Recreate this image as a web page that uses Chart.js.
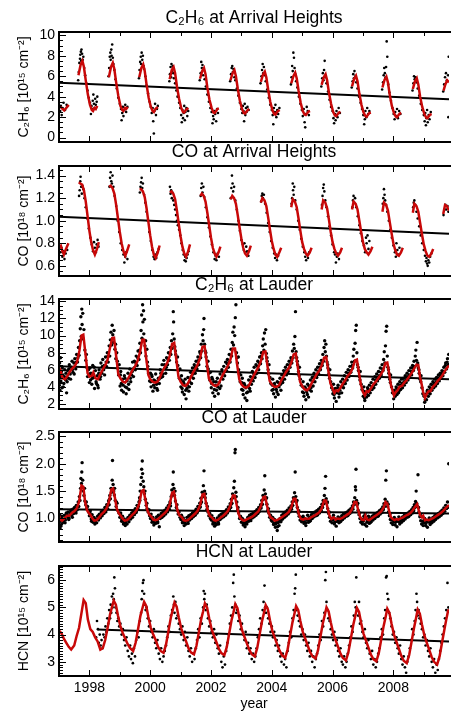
<!DOCTYPE html>
<html>
<head>
<meta charset="utf-8">
<script src="https://cdn.jsdelivr.net/npm/chart.js@4.4.0/dist/chart.umd.min.js"></script>
<style>
html, body { margin: 0; padding: 0; background: #fff; }
#wrap { position: relative; width: 453px; height: 711px; overflow: hidden; background: #fff; }
#wrap canvas { position: absolute; left: 0; }
</style>
</head>
<body>
<div id="wrap"></div>
<script>
// ---- data (decimal year, column) ----

const yearTicks = [1998, 2000, 2002, 2004, 2006, 2008];

// C2H6 at Arrival Heights
const ahC2h6Ticks = [0, 2, 4, 6, 8, 10];
const ahC2h6Trend = [[1997, 5.35], [2009.83, 3.75]];
const ahC2h6Fit = [
  [1997.05,3.0],[1997.17,2.65],[1997.32,3.2],[1997.33,null],
  [1997.64,6.1],[1997.71,7.1],[1997.77,7.5],[1997.82,6.9],[1997.88,5.6],[1997.95,4.2],[1998.02,3.2],[1998.08,2.7],[1998.12,2.6],[1998.17,2.9],[1998.21,2.8],[1998.26,3.1],[1998.27,null],
  [1998.64,5.9],[1998.71,6.9],[1998.77,7.3],[1998.82,6.7],[1998.88,5.4],[1998.95,4.1],[1999.02,3.1],[1999.08,2.7],[1999.12,2.6],[1999.17,2.9],[1999.21,2.8],[1999.26,3.0],[1999.27,null],
  [1999.64,5.9],[1999.71,6.8],[1999.77,7.15],[1999.82,6.5],[1999.88,5.2],[1999.95,3.9],[2000.02,3.0],[2000.08,2.6],[2000.12,2.5],[2000.17,2.8],[2000.21,2.9],[2000.26,2.95],[2000.27,null],
  [2000.64,5.7],[2000.71,6.6],[2000.77,6.9],[2000.82,6.3],[2000.88,5.0],[2000.95,3.8],[2001.02,2.9],[2001.08,2.5],[2001.12,2.45],[2001.17,2.7],[2001.21,2.8],[2001.26,2.9],[2001.27,null],
  [2001.64,5.75],[2001.71,6.5],[2001.77,6.8],[2001.82,6.2],[2001.88,4.9],[2001.95,3.7],[2002.02,2.9],[2002.08,2.45],[2002.12,2.4],[2002.17,2.6],[2002.21,2.8],[2002.26,2.85],[2002.27,null],
  [2002.64,5.6],[2002.71,6.3],[2002.77,6.6],[2002.82,6.0],[2002.88,4.8],[2002.95,3.6],[2003.02,2.8],[2003.08,2.4],[2003.12,2.35],[2003.17,2.55],[2003.21,2.7],[2003.26,2.8],[2003.27,null],
  [2003.64,5.45],[2003.71,6.15],[2003.77,6.45],[2003.82,5.9],[2003.88,4.7],[2003.95,3.5],[2004.02,2.7],[2004.08,2.3],[2004.12,2.25],[2004.17,2.5],[2004.21,2.6],[2004.26,2.7],[2004.27,null],
  [2004.64,5.3],[2004.71,6.0],[2004.77,6.35],[2004.82,5.8],[2004.88,4.6],[2004.95,3.4],[2005.02,2.6],[2005.08,2.25],[2005.12,2.2],[2005.17,2.4],[2005.21,2.55],[2005.26,2.6],[2005.27,null],
  [2005.64,5.15],[2005.71,5.9],[2005.77,6.2],[2005.82,5.6],[2005.88,4.4],[2005.95,3.3],[2006.02,2.5],[2006.08,2.15],[2006.12,2.1],[2006.17,2.3],[2006.21,2.45],[2006.26,2.5],[2006.27,null],
  [2006.64,5.0],[2006.71,5.75],[2006.77,6.05],[2006.82,5.5],[2006.88,4.3],[2006.95,3.2],[2007.02,2.45],[2007.08,2.1],[2007.12,2.05],[2007.17,2.25],[2007.21,2.4],[2007.26,2.45],[2007.27,null],
  [2007.64,4.9],[2007.71,5.65],[2007.77,5.95],[2007.82,5.4],[2007.88,4.2],[2007.95,3.1],[2008.02,2.4],[2008.08,2.05],[2008.12,2.0],[2008.17,2.2],[2008.21,2.35],[2008.26,2.4],[2008.27,null],
  [2008.64,4.75],[2008.71,5.5],[2008.77,5.8],[2008.82,5.2],[2008.88,4.0],[2008.95,3.0],[2009.02,2.3],[2009.08,1.95],[2009.12,1.9],[2009.17,2.1],[2009.21,2.25],[2009.26,2.3],[2009.27,null],
  [2009.65,4.6],[2009.71,5.2],[2009.77,5.6],[2009.83,5.4]
];
const ahC2h6Pts = [
  [1997.04,2.6],[1997.06,3.1],[1997.09,2.2],[1997.12,2.9],[1997.15,3.4],[1997.2,2.7],[1997.25,3.2],
  [1997.63,5.6],[1997.65,6.4],[1997.67,7.3],[1997.69,7.7],[1997.7,8.1],[1997.72,8.4],[1997.73,7.5],[1997.74,8.6],[1997.76,8.2],[1997.78,7.6],[1997.8,7.9],[1997.83,6.8],[1997.86,6.1],[1997.9,5.3],[1997.94,4.6],[1997.98,3.9],[1998.02,3.4],[1998.05,2.3],[1998.07,3.1],[1998.09,2.8],[1998.11,3.6],[1998.13,4.2],[1998.15,3.3],[1998.17,2.9],[1998.19,3.8],[1998.21,3.2],[1998.24,3.5],[1998.26,4.0],
  [1998.63,6.0],[1998.65,6.8],[1998.67,7.9],[1998.69,8.3],[1998.7,7.6],[1998.72,8.6],[1998.73,8.0],[1998.75,9.1],[1998.77,7.8],[1998.79,7.2],[1998.82,6.6],[1998.86,5.7],[1998.9,4.8],[1998.95,3.9],[1999.0,3.3],[1999.04,2.8],[1999.06,1.7],[1999.08,2.4],[1999.1,3.0],[1999.12,2.1],[1999.15,2.7],[1999.18,3.2],[1999.21,2.5],[1999.25,3.0],
  [1999.63,5.8],[1999.65,6.6],[1999.67,7.4],[1999.69,7.9],[1999.7,7.2],[1999.72,8.3],[1999.74,7.6],[1999.76,8.0],[1999.78,7.0],[1999.8,6.7],[1999.84,6.0],[1999.88,5.1],[1999.93,4.3],[1999.98,3.5],[2000.02,3.0],[2000.05,2.4],[2000.08,2.9],[2000.1,1.6],[2000.12,0.4],[2000.14,2.6],[2000.16,3.3],[2000.19,2.2],[2000.22,2.8],[2000.25,3.1],
  [2000.63,5.5],[2000.65,6.2],[2000.67,6.9],[2000.69,5.9],[2000.7,7.2],[2000.72,6.5],[2000.74,7.0],[2000.76,6.3],[2000.78,5.8],[2000.82,5.3],[2000.86,4.6],[2000.9,4.0],[2000.95,3.4],[2000.99,2.9],[2001.02,2.2],[2001.04,1.5],[2001.06,2.7],[2001.08,1.9],[2001.1,2.4],[2001.12,3.1],[2001.14,1.7],[2001.16,2.5],[2001.19,2.9],[2001.22,2.1],[2001.25,2.6],
  [2001.63,5.6],[2001.66,6.3],[2001.68,7.4],[2001.7,6.8],[2001.72,7.1],[2001.74,6.1],[2001.76,6.6],[2001.79,5.7],[2001.83,5.0],[2001.88,4.2],[2001.93,3.5],[2001.98,2.9],[2002.02,2.5],[2002.05,1.4],[2002.07,2.1],[2002.09,1.8],[2002.11,2.6],[2002.14,2.3],[2002.17,1.6],[2002.2,2.8],[2002.23,2.4],
  [2002.63,5.5],[2002.66,6.2],[2002.68,6.8],[2002.7,7.0],[2002.72,6.4],[2002.74,6.7],[2002.77,5.9],[2002.8,5.6],[2002.85,4.8],[2002.9,4.1],[2002.95,3.4],[2003.0,2.8],[2003.03,2.4],[2003.05,3.1],[2003.07,2.6],[2003.09,1.6],[2003.11,3.3],[2003.13,2.2],[2003.15,2.9],[2003.17,2.5],[2003.2,3.0],[2003.24,2.7],
  [2003.63,5.3],[2003.66,6.0],[2003.68,6.6],[2003.7,7.2],[2003.72,6.3],[2003.74,6.9],[2003.77,6.1],[2003.8,5.5],[2003.85,4.7],[2003.9,3.9],[2003.95,3.2],[2004.0,2.7],[2004.03,2.2],[2004.05,1.3],[2004.07,2.9],[2004.1,2.5],[2004.12,3.2],[2004.15,2.0],[2004.18,2.7],[2004.21,2.3],[2004.25,2.9],
  [2004.63,5.2],[2004.65,5.9],[2004.67,7.0],[2004.69,6.5],[2004.71,8.3],[2004.73,7.8],[2004.75,6.8],[2004.77,6.2],[2004.8,5.5],[2004.84,4.9],[2004.89,4.0],[2004.94,3.3],[2004.99,2.7],[2005.02,2.1],[2005.05,2.8],[2005.08,1.5],[2005.1,1.0],[2005.12,2.3],[2005.15,3.0],[2005.18,2.6],[2005.22,2.2],
  [2005.63,5.0],[2005.66,5.8],[2005.68,6.3],[2005.7,5.6],[2005.72,6.6],[2005.74,7.5],[2005.77,5.9],[2005.8,5.3],[2005.85,4.5],[2005.9,3.7],[2005.95,3.0],[2006.0,2.6],[2006.03,1.9],[2006.05,1.4],[2006.08,2.3],[2006.1,1.7],[2006.13,2.6],[2006.16,2.0],[2006.2,2.9],[2006.24,2.4],
  [2006.63,4.9],[2006.66,5.5],[2006.68,6.2],[2006.7,5.8],[2006.72,6.5],[2006.75,6.0],[2006.78,5.4],[2006.82,4.8],[2006.87,4.0],[2006.92,3.4],[2006.97,2.8],[2007.01,2.2],[2007.04,1.3],[2007.06,1.8],[2007.08,2.6],[2007.11,2.0],[2007.14,2.9],[2007.17,2.3],[2007.21,2.6],
  [2007.63,4.7],[2007.66,5.4],[2007.68,6.1],[2007.7,6.8],[2007.72,6.3],[2007.74,5.9],[2007.76,6.9],[2007.78,9.4],[2007.8,7.9],[2007.83,5.2],[2007.87,4.4],[2007.92,3.6],[2007.97,2.9],[2008.01,2.3],[2008.04,1.8],[2008.06,2.5],[2008.09,2.1],[2008.12,2.8],[2008.15,1.9],[2008.19,2.6],[2008.23,2.3],
  [2008.63,4.6],[2008.66,5.3],[2008.68,6.0],[2008.7,5.7],[2008.73,5.9],[2008.76,5.4],[2008.8,4.8],[2008.85,4.1],[2008.9,3.3],[2008.95,2.7],[2009.0,2.2],[2009.03,1.6],[2009.05,2.4],[2009.07,1.2],[2009.09,1.9],[2009.11,2.7],[2009.13,1.5],[2009.16,2.2],[2009.19,1.8],[2009.23,2.5],
  [2009.64,4.5],[2009.67,5.2],[2009.7,5.9],[2009.73,6.3],[2009.76,5.6],[2009.8,6.1],[2009.81,2.0],[2009.82,7.9]
];

// CO at Arrival Heights
const ahCoTicks = [0.6, 0.8, 1.0, 1.2, 1.4];
const ahCoTrend = [[1997, 1.035], [2009.83, 0.885]];
const ahCoFit = [
  [1997.05,0.79],[1997.1,0.74],[1997.16,0.7],[1997.23,0.75],[1997.31,0.8],[1997.32,null],
  [1997.65,1.34],[1997.7,1.33],[1997.76,1.32],[1997.82,1.27],[1997.88,1.17],[1997.94,1.04],[1998.0,0.91],[1998.06,0.81],[1998.12,0.74],[1998.18,0.7],[1998.25,0.75],[1998.31,0.81],[1998.32,null],
  [1998.65,1.3],[1998.7,1.31],[1998.76,1.29],[1998.82,1.24],[1998.88,1.14],[1998.94,1.02],[1999.0,0.9],[1999.06,0.8],[1999.12,0.73],[1999.18,0.69],[1999.25,0.74],[1999.31,0.79],[1999.32,null],
  [1999.65,1.28],[1999.7,1.28],[1999.76,1.26],[1999.82,1.21],[1999.88,1.11],[1999.94,0.99],[2000.0,0.87],[2000.06,0.77],[2000.12,0.7],[2000.18,0.67],[2000.25,0.72],[2000.31,0.78],[2000.32,null],
  [2000.65,1.25],[2000.7,1.26],[2000.76,1.24],[2000.82,1.19],[2000.88,1.09],[2000.94,0.97],[2001.0,0.86],[2001.06,0.77],[2001.12,0.71],[2001.18,0.68],[2001.25,0.73],[2001.31,0.79],[2001.32,null],
  [2001.65,1.22],[2001.7,1.24],[2001.76,1.22],[2001.82,1.17],[2001.88,1.07],[2001.94,0.96],[2002.0,0.85],[2002.06,0.76],[2002.12,0.71],[2002.18,0.68],[2002.25,0.72],[2002.31,0.77],[2002.32,null],
  [2002.65,1.19],[2002.7,1.22],[2002.76,1.2],[2002.82,1.15],[2002.88,1.05],[2002.94,0.94],[2003.0,0.84],[2003.06,0.76],[2003.12,0.71],[2003.18,0.69],[2003.25,0.73],[2003.31,0.78],[2003.32,null],
  [2003.64,1.16],[2003.69,1.2],[2003.76,1.18],[2003.82,1.13],[2003.88,1.03],[2003.94,0.92],[2004.0,0.82],[2004.06,0.75],[2004.12,0.7],[2004.18,0.68],[2004.25,0.72],[2004.31,0.76],[2004.32,null],
  [2004.64,1.12],[2004.69,1.19],[2004.76,1.17],[2004.82,1.12],[2004.88,1.02],[2004.94,0.91],[2005.0,0.81],[2005.06,0.75],[2005.12,0.71],[2005.18,0.69],[2005.25,0.72],[2005.31,0.76],[2005.32,null],
  [2005.64,1.1],[2005.69,1.18],[2005.76,1.16],[2005.82,1.11],[2005.88,1.01],[2005.94,0.9],[2006.0,0.81],[2006.06,0.75],[2006.12,0.71],[2006.18,0.69],[2006.25,0.72],[2006.31,0.76],[2006.32,null],
  [2006.64,1.1],[2006.69,1.17],[2006.76,1.15],[2006.82,1.1],[2006.88,1.0],[2006.94,0.9],[2007.0,0.81],[2007.06,0.75],[2007.12,0.72],[2007.18,0.7],[2007.25,0.73],[2007.31,0.77],[2007.32,null],
  [2007.64,1.08],[2007.69,1.16],[2007.76,1.14],[2007.82,1.09],[2007.88,0.99],[2007.94,0.89],[2008.0,0.8],[2008.06,0.74],[2008.12,0.7],[2008.18,0.69],[2008.25,0.72],[2008.31,0.76],[2008.32,null],
  [2008.64,1.07],[2008.69,1.15],[2008.76,1.13],[2008.82,1.08],[2008.88,0.98],[2008.94,0.88],[2009.0,0.79],[2009.06,0.73],[2009.12,0.69],[2009.18,0.68],[2009.25,0.71],[2009.31,0.75],[2009.32,null],
  [2009.64,1.06],[2009.7,1.14],[2009.76,1.13],[2009.83,1.09]
];
const ahCoPts = [
  [1997.05,0.72],[1997.08,0.76],[1997.11,0.68],[1997.14,0.73],[1997.18,0.66],[1997.22,0.71],[1997.27,0.74],
  [1997.66,1.22],[1997.68,1.27],[1997.7,1.35],[1997.71,1.39],[1997.73,1.3],[1997.75,1.24],[1997.77,1.31],[1997.8,1.28],[1997.84,1.2],[1997.88,1.12],[1997.93,1.02],[1997.98,0.93],[1998.03,0.85],[1998.08,0.79],[1998.12,0.73],[1998.15,0.81],[1998.18,0.76],[1998.21,0.72],[1998.24,0.79],[1998.27,0.83],[1998.3,0.77],
  [1998.66,1.3],[1998.68,1.38],[1998.7,1.43],[1998.72,1.35],[1998.74,1.33],[1998.76,1.4],[1998.79,1.3],[1998.83,1.22],[1998.88,1.13],[1998.93,1.0],[1998.98,0.9],[1999.03,0.8],[1999.08,0.74],[1999.12,0.7],[1999.15,0.63],[1999.18,0.68],[1999.21,0.72],[1999.25,0.66],
  [1999.66,1.25],[1999.68,1.3],[1999.7,1.34],[1999.72,1.38],[1999.74,1.29],[1999.76,1.33],[1999.8,1.23],[1999.84,1.16],[1999.88,1.08],[1999.92,1.0],[1999.97,0.9],[2000.02,0.82],[2000.07,0.74],[2000.11,0.68],[2000.14,0.66],[2000.17,0.7],[2000.2,0.67],[2000.24,0.72],[2000.28,0.75],
  [2000.65,1.3],[2000.67,1.24],[2000.69,1.27],[2000.71,1.2],[2000.73,1.25],[2000.76,1.18],[2000.79,1.14],[2000.82,1.1],[2000.85,1.05],[2000.88,1.0],[2000.91,0.96],[2000.95,0.92],[2000.99,0.87],[2001.03,0.8],[2001.07,0.74],[2001.1,0.7],[2001.13,0.65],[2001.15,0.68],[2001.17,0.64],[2001.2,0.67],[2001.23,0.7],[2001.26,0.73],
  [2001.66,1.22],[2001.68,1.29],[2001.7,1.33],[2001.72,1.25],[2001.75,1.3],[2001.78,1.21],[2001.83,1.12],[2001.88,1.03],[2001.93,0.94],[2001.98,0.86],[2002.03,0.79],[2002.08,0.72],[2002.12,0.66],[2002.15,0.69],[2002.18,0.65],[2002.22,0.71],[2002.26,0.68],
  [2002.65,1.2],[2002.67,1.29],[2002.69,1.4],[2002.71,1.33],[2002.73,1.26],[2002.76,1.3],[2002.8,1.18],[2002.85,1.1],[2002.9,1.0],[2002.95,0.91],[2003.0,0.83],[2003.05,0.79],[2003.08,0.74],[2003.1,0.8],[2003.13,0.72],[2003.16,0.77],[2003.19,0.73],[2003.23,0.69],
  [2003.65,1.17],[2003.67,1.22],[2003.69,1.24],[2003.71,1.2],[2003.74,1.23],[2003.78,1.15],[2003.83,1.07],[2003.88,0.98],[2003.93,0.9],[2003.98,0.82],[2004.03,0.76],[2004.08,0.71],[2004.11,0.67],[2004.14,0.7],[2004.17,0.65],[2004.21,0.69],
  [2004.65,1.15],[2004.67,1.2],[2004.69,1.33],[2004.7,1.27],[2004.72,1.23],[2004.74,1.3],[2004.77,1.18],[2004.82,1.1],[2004.87,1.0],[2004.92,0.92],[2004.97,0.84],[2005.02,0.77],[2005.07,0.72],[2005.1,0.68],[2005.13,0.65],[2005.16,0.7],[2005.19,0.67],[2005.23,0.72],
  [2005.65,1.14],[2005.67,1.22],[2005.69,1.29],[2005.71,1.32],[2005.73,1.26],[2005.76,1.18],[2005.8,1.12],[2005.85,1.04],[2005.9,0.95],[2005.95,0.87],[2006.0,0.79],[2006.05,0.72],[2006.08,0.7],[2006.11,0.63],[2006.14,0.68],[2006.17,0.71],[2006.21,0.66],
  [2006.65,1.12],[2006.67,1.18],[2006.69,1.22],[2006.71,1.16],[2006.74,1.2],[2006.78,1.12],[2006.83,1.04],[2006.88,0.96],[2006.93,0.89],[2006.98,0.82],[2007.03,0.78],[2007.07,0.72],[2007.1,0.85],[2007.12,0.8],[2007.15,0.87],[2007.18,0.75],[2007.21,0.82],
  [2007.65,1.15],[2007.67,1.2],[2007.69,1.28],[2007.71,1.23],[2007.73,1.18],[2007.76,1.14],[2007.8,1.08],[2007.85,1.0],[2007.9,0.92],[2007.95,0.85],[2008.0,0.78],[2008.05,0.72],[2008.08,0.68],[2008.1,0.8],[2008.13,0.74],[2008.16,0.7],[2008.2,0.76],
  [2008.65,1.12],[2008.67,1.16],[2008.69,1.18],[2008.72,1.14],[2008.76,1.08],[2008.8,1.02],[2008.85,0.95],[2008.9,0.87],[2008.95,0.8],[2009.0,0.74],[2009.04,0.69],[2009.07,0.64],[2009.09,0.67],[2009.11,0.62],[2009.13,0.6],[2009.15,0.65],[2009.18,0.63],[2009.21,0.68],[2009.25,0.71],
  [2009.65,1.05],[2009.68,1.1],[2009.71,1.14],[2009.74,1.1],[2009.78,1.13],[2009.81,1.08]
];

// C2H6 at Lauder
const laC2h6Ticks = [2, 4, 6, 8, 10, 12, 14];
const laC2h6Trend = [[1997, 6.4], [2009.83, 4.9]];
const laC2h6Fit = [
  [1997.0,5.5],[1997.05,5.9],[1997.12,5.0],[1997.2,4.9],[1997.28,5.3],[1997.36,5.8],[1997.45,6.2],[1997.53,6.5],[1997.6,7.0],[1997.67,8.2],[1997.74,10.0],[1997.8,10.1],[1997.87,7.9],[1997.94,5.6],
  [1998.0,5.2],[1998.08,5.3],[1998.13,5.7],[1998.2,5.0],[1998.28,4.9],[1998.36,5.5],[1998.45,6.1],[1998.53,6.6],[1998.6,7.2],[1998.68,8.6],[1998.75,9.7],[1998.81,9.75],[1998.88,7.6],[1998.95,5.5],
  [1999.02,5.0],[1999.1,4.6],[1999.18,4.5],[1999.26,4.9],[1999.34,5.4],[1999.42,6.0],[1999.5,6.4],[1999.58,7.0],[1999.66,8.0],[1999.74,9.5],[1999.8,9.5],[1999.87,7.3],[1999.94,5.4],
  [2000.0,4.9],[2000.08,4.6],[2000.16,4.5],[2000.24,4.6],[2000.32,5.1],[2000.4,5.8],[2000.48,6.3],[2000.56,6.8],[2000.64,7.6],[2000.72,9.0],[2000.79,9.15],[2000.86,7.2],[2000.93,5.2],
  [2001.0,4.6],[2001.08,4.2],[2001.16,4.1],[2001.24,4.4],[2001.32,5.0],[2001.4,5.6],[2001.48,6.1],[2001.56,6.6],[2001.64,7.4],[2001.72,8.7],[2001.79,8.75],[2001.86,6.9],[2001.93,5.0],
  [2002.0,4.5],[2002.08,4.2],[2002.16,4.1],[2002.24,4.3],[2002.32,4.9],[2002.4,5.5],[2002.48,6.0],[2002.56,6.5],[2002.64,7.2],[2002.72,8.5],[2002.79,8.5],[2002.86,6.6],[2002.93,4.9],
  [2003.0,4.3],[2003.08,4.0],[2003.16,3.9],[2003.24,4.1],[2003.32,4.7],[2003.4,5.3],[2003.48,5.8],[2003.56,6.3],[2003.64,7.0],[2003.72,8.1],[2003.79,8.15],[2003.86,6.4],[2003.93,4.7],
  [2004.0,4.3],[2004.08,4.0],[2004.16,4.0],[2004.24,4.2],[2004.32,4.8],[2004.4,5.3],[2004.48,5.8],[2004.56,6.2],[2004.64,6.8],[2004.72,7.8],[2004.79,7.9],[2004.86,6.2],[2004.93,4.6],
  [2005.0,4.1],[2005.08,3.7],[2005.16,3.6],[2005.24,3.9],[2005.32,4.5],[2005.4,5.0],[2005.48,5.5],[2005.56,5.9],[2005.64,6.5],[2005.72,7.4],[2005.79,7.5],[2005.86,5.9],[2005.93,4.4],
  [2006.0,3.8],[2006.06,3.3],[2006.12,3.6],[2006.18,3.5],[2006.26,3.9],[2006.34,4.4],[2006.42,4.8],[2006.5,5.3],[2006.58,5.6],[2006.66,6.2],[2006.74,7.1],[2006.8,7.2],[2006.87,5.6],[2006.93,4.3],
  [2007.0,3.4],[2007.06,3.0],[2007.12,3.5],[2007.18,3.4],[2007.26,3.8],[2007.34,4.3],[2007.42,4.6],[2007.5,5.0],[2007.58,5.4],[2007.66,5.9],[2007.74,6.8],[2007.8,6.85],[2007.87,5.4],[2007.92,4.2],[2007.97,3.6],
  [2008.02,3.0],[2008.08,3.4],[2008.14,3.6],[2008.2,4.0],[2008.28,4.1],[2008.36,4.5],[2008.44,4.8],[2008.52,5.2],[2008.6,5.6],[2008.68,6.1],[2008.76,6.6],[2008.82,6.55],[2008.88,5.1],[2008.93,4.3],[2008.98,3.4],
  [2009.04,2.7],[2009.1,3.2],[2009.16,3.5],[2009.22,3.5],[2009.3,4.0],[2009.38,4.3],[2009.46,4.7],[2009.54,5.0],[2009.62,5.4],[2009.7,5.9],[2009.78,6.3],[2009.83,6.5]
];
const laC2h6Pts = [
  [1997.01,4.2],[1997.02,6.8],[1997.03,3.6],[1997.04,5.1],[1997.05,7.4],[1997.06,4.7],[1997.08,5.8],[1997.1,3.9],[1997.13,5.4],[1997.16,4.4],[1997.19,6.0],[1997.22,4.8],[1997.25,3.3],[1997.28,5.9],[1997.31,5.0],[1997.34,6.6],[1997.37,5.5],[1997.4,6.3],[1997.43,7.0],[1997.46,5.7],[1997.49,6.8],[1997.52,7.3],[1997.55,6.1],[1997.58,7.8],[1997.61,6.9],[1997.64,8.6],[1997.66,7.7],[1997.68,9.4],[1997.7,10.8],[1997.72,12.2],[1997.73,9.9],[1997.75,13.1],[1997.76,11.3],[1997.78,12.6],[1997.8,9.6],[1997.82,10.7],[1997.85,8.3],[1997.88,7.1],[1997.91,6.3],[1997.94,5.2],[1997.97,6.0],
  [1998.0,4.5],[1998.02,6.2],[1998.05,5.6],[1998.08,4.3],[1998.11,6.5],[1998.14,5.1],[1998.17,3.8],[1998.2,5.9],[1998.23,4.4],[1998.26,5.3],[1998.29,3.9],[1998.32,6.0],[1998.35,4.9],[1998.38,6.8],[1998.41,5.6],[1998.44,7.2],[1998.47,6.0],[1998.5,5.4],[1998.53,7.5],[1998.56,6.4],[1998.59,8.0],[1998.62,6.9],[1998.65,8.8],[1998.67,7.6],[1998.69,9.5],[1998.71,10.4],[1998.73,8.9],[1998.75,11.2],[1998.77,10.1],[1998.79,9.2],[1998.81,10.6],[1998.84,8.4],[1998.87,7.3],[1998.9,8.0],[1998.93,6.2],[1998.96,5.4],[1998.98,6.6],
  [1999.01,4.1],[1999.03,5.8],[1999.06,3.6],[1999.09,4.9],[1999.12,3.4],[1999.15,5.3],[1999.18,4.0],[1999.21,3.2],[1999.24,4.7],[1999.27,5.6],[1999.3,3.7],[1999.33,6.1],[1999.36,4.6],[1999.39,5.4],[1999.42,6.9],[1999.45,5.2],[1999.48,7.0],[1999.51,6.0],[1999.54,7.6],[1999.57,6.5],[1999.6,8.2],[1999.63,7.2],[1999.66,9.1],[1999.68,8.0],[1999.7,10.6],[1999.72,12.4],[1999.73,9.7],[1999.75,13.6],[1999.76,11.6],[1999.78,12.9],[1999.79,10.2],[1999.81,11.9],[1999.83,8.8],[1999.86,7.6],[1999.89,8.4],[1999.92,6.4],[1999.95,5.6],[1999.98,4.7],
  [2000.01,5.6],[2000.03,4.0],[2000.06,5.2],[2000.09,3.5],[2000.12,4.8],[2000.15,3.9],[2000.18,5.5],[2000.21,4.3],[2000.24,3.6],[2000.27,5.0],[2000.3,4.4],[2000.33,6.0],[2000.36,5.1],[2000.39,6.6],[2000.42,5.5],[2000.45,7.1],[2000.48,6.2],[2000.51,5.6],[2000.54,7.4],[2000.57,6.6],[2000.6,8.0],[2000.63,7.1],[2000.66,8.6],[2000.68,7.8],[2000.7,9.4],[2000.72,8.5],[2000.74,10.2],[2000.76,12.8],[2000.77,11.6],[2000.79,9.6],[2000.81,8.7],[2000.84,7.8],[2000.87,6.9],[2000.9,7.5],[2000.93,5.9],[2000.96,5.0],[2000.98,6.1],
  [2001.01,4.0],[2001.03,5.3],[2001.06,3.4],[2001.09,4.6],[2001.12,3.1],[2001.15,4.9],[2001.18,2.6],[2001.21,3.8],[2001.24,5.1],[2001.27,3.5],[2001.3,4.6],[2001.33,5.7],[2001.36,4.4],[2001.39,6.2],[2001.42,5.0],[2001.45,6.6],[2001.48,5.6],[2001.51,7.0],[2001.54,6.1],[2001.57,7.5],[2001.6,6.6],[2001.63,8.1],[2001.66,7.4],[2001.68,9.0],[2001.7,8.2],[2001.72,10.1],[2001.74,9.4],[2001.76,10.7],[2001.77,12.0],[2001.79,9.0],[2001.81,8.2],[2001.84,7.5],[2001.87,6.4],[2001.9,7.0],[2001.93,5.6],[2001.96,4.8],[2001.98,5.7],
  [2002.01,3.9],[2002.03,5.1],[2002.06,3.3],[2002.09,4.6],[2002.12,2.9],[2002.15,4.2],[2002.18,3.6],[2002.21,5.0],[2002.24,3.2],[2002.27,4.5],[2002.3,5.5],[2002.33,4.1],[2002.36,6.0],[2002.39,4.9],[2002.42,6.4],[2002.45,5.3],[2002.48,6.9],[2002.51,5.9],[2002.54,7.2],[2002.57,6.3],[2002.6,7.8],[2002.63,6.9],[2002.66,8.4],[2002.68,7.6],[2002.7,9.2],[2002.72,10.4],[2002.74,8.9],[2002.76,11.0],[2002.78,10.0],[2002.8,12.1],[2002.82,13.6],[2002.84,8.0],[2002.87,6.8],[2002.9,7.5],[2002.93,5.5],[2002.96,4.6],[2002.98,5.4],
  [2003.01,3.7],[2003.03,5.0],[2003.06,3.1],[2003.09,4.4],[2003.12,2.7],[2003.15,3.9],[2003.18,2.4],[2003.21,3.4],[2003.24,4.8],[2003.27,3.8],[2003.3,5.2],[2003.33,4.3],[2003.36,5.8],[2003.39,4.7],[2003.42,6.3],[2003.45,5.1],[2003.48,6.6],[2003.51,5.6],[2003.54,7.0],[2003.57,6.0],[2003.6,7.5],[2003.63,6.7],[2003.66,8.0],[2003.68,7.3],[2003.7,8.8],[2003.72,9.6],[2003.74,8.3],[2003.76,10.3],[2003.78,9.0],[2003.8,10.7],[2003.82,7.9],[2003.85,7.0],[2003.88,6.0],[2003.91,6.6],[2003.94,5.1],[2003.97,4.4],
  [2004.01,3.6],[2004.03,4.9],[2004.06,3.2],[2004.09,4.4],[2004.12,2.8],[2004.15,3.7],[2004.18,4.6],[2004.21,3.1],[2004.24,4.0],[2004.27,5.0],[2004.3,3.6],[2004.33,5.4],[2004.36,4.5],[2004.39,5.9],[2004.42,4.9],[2004.45,6.3],[2004.48,5.4],[2004.51,6.6],[2004.54,5.8],[2004.57,7.0],[2004.6,6.3],[2004.63,7.4],[2004.66,6.8],[2004.68,8.2],[2004.7,7.4],[2004.72,9.0],[2004.74,8.5],[2004.76,9.9],[2004.78,12.8],[2004.8,8.1],[2004.82,7.4],[2004.85,6.6],[2004.88,5.8],[2004.91,6.3],[2004.94,4.9],[2004.97,4.2],
  [2005.01,3.4],[2005.03,4.6],[2005.06,2.9],[2005.09,4.0],[2005.12,2.5],[2005.15,3.4],[2005.18,4.3],[2005.21,2.8],[2005.24,3.7],[2005.27,4.8],[2005.3,3.5],[2005.33,5.1],[2005.36,4.1],[2005.39,5.6],[2005.42,4.6],[2005.45,6.0],[2005.48,5.1],[2005.51,6.3],[2005.54,5.5],[2005.57,6.7],[2005.6,6.0],[2005.63,7.1],[2005.66,6.5],[2005.68,7.8],[2005.7,7.0],[2005.72,8.6],[2005.74,9.4],[2005.76,8.1],[2005.78,9.0],[2005.8,7.6],[2005.82,6.9],[2005.85,6.2],[2005.88,5.5],[2005.91,6.0],[2005.94,4.6],[2005.97,3.9],
  [2006.01,3.2],[2006.03,4.3],[2006.06,2.7],[2006.09,3.8],[2006.12,2.3],[2006.15,3.3],[2006.18,4.2],[2006.21,2.8],[2006.24,3.6],[2006.27,4.6],[2006.3,3.3],[2006.33,4.9],[2006.36,3.9],[2006.39,5.3],[2006.42,4.4],[2006.45,5.7],[2006.48,4.8],[2006.51,6.0],[2006.54,5.2],[2006.57,6.4],[2006.6,5.7],[2006.63,6.9],[2006.66,6.2],[2006.68,7.6],[2006.7,8.4],[2006.72,7.0],[2006.74,9.1],[2006.76,10.6],[2006.78,11.2],[2006.8,8.0],[2006.82,6.6],[2006.85,5.9],[2006.88,5.2],[2006.91,5.8],[2006.94,4.3],[2006.97,3.7],
  [2007.01,2.9],[2007.03,4.0],[2007.06,2.4],[2007.09,3.4],[2007.12,2.8],[2007.15,3.9],[2007.18,3.0],[2007.21,4.2],[2007.24,3.3],[2007.27,4.5],[2007.3,3.7],[2007.33,4.9],[2007.36,3.9],[2007.39,5.2],[2007.42,4.3],[2007.45,5.5],[2007.48,4.7],[2007.51,5.8],[2007.54,5.0],[2007.57,6.2],[2007.6,5.4],[2007.63,6.6],[2007.66,5.9],[2007.68,7.2],[2007.7,8.1],[2007.72,6.8],[2007.74,8.8],[2007.76,10.5],[2007.78,11.1],[2007.8,7.6],[2007.82,6.3],[2007.85,5.6],[2007.88,4.9],[2007.91,5.4],[2007.94,4.0],[2007.97,3.3],
  [2008.01,2.6],[2008.03,3.6],[2008.06,2.9],[2008.09,4.0],[2008.12,3.1],[2008.15,4.3],[2008.18,3.5],[2008.21,4.6],[2008.24,3.7],[2008.27,4.9],[2008.3,3.9],[2008.33,5.0],[2008.36,4.2],[2008.39,5.3],[2008.42,4.5],[2008.45,5.6],[2008.48,4.8],[2008.51,5.9],[2008.54,5.1],[2008.57,6.2],[2008.6,5.4],[2008.63,6.5],[2008.66,5.9],[2008.68,7.0],[2008.7,6.4],[2008.72,7.6],[2008.74,8.3],[2008.76,7.1],[2008.78,9.2],[2008.8,6.8],[2008.82,6.2],[2008.85,5.6],[2008.88,4.9],[2008.91,5.3],[2008.94,3.9],[2008.97,3.2],
  [2009.01,2.9],[2009.03,2.2],[2009.06,3.1],[2009.09,2.5],[2009.12,3.6],[2009.15,2.9],[2009.18,4.0],[2009.21,3.2],[2009.24,4.3],[2009.27,3.6],[2009.3,4.6],[2009.33,3.9],[2009.36,4.9],[2009.39,4.1],[2009.42,5.1],[2009.45,4.4],[2009.48,5.4],[2009.51,4.7],[2009.54,5.6],[2009.57,5.0],[2009.6,5.9],[2009.63,5.3],[2009.66,6.3],[2009.69,5.7],[2009.72,6.8],[2009.75,6.1],[2009.78,7.3],[2009.8,6.6],[2009.82,7.8]
];
const laC2h6PtsB = [
  [1997.02,5.3],[1997.07,4.5],[1997.11,6.2],[1997.14,4.0],[1997.18,5.2],[1997.23,5.6],[1997.27,4.6],[1997.32,6.1],[1997.38,4.9],[1997.44,6.0],[1997.5,5.5],[1997.56,6.9],[1997.62,7.4],[1997.9,7.8],
  [1998.01,5.5],[1998.04,4.8],[1998.1,5.0],[1998.16,6.3],[1998.22,4.6],[1998.27,4.2],[1998.31,5.6],[1998.37,5.2],[1998.43,6.4],[1998.49,6.5],[1998.55,6.9],[1998.61,7.6],[1998.86,9.0],[1998.92,7.0],
  [1999.02,5.4],[1999.05,4.4],[1999.11,4.2],[1999.17,5.0],[1999.23,3.9],[1999.29,4.3],[1999.35,5.0],[1999.41,5.8],[1999.47,6.2],[1999.53,6.8],[1999.59,7.4],[1999.65,8.3],[1999.85,9.4],[1999.91,6.9],
  [2000.02,4.6],[2000.05,5.4],[2000.11,4.2],[2000.17,4.7],[2000.22,3.8],[2000.29,4.9],[2000.35,5.6],[2000.41,5.2],[2000.47,6.6],[2000.53,6.3],[2000.59,7.2],[2000.65,7.9],[2000.83,8.2],[2000.91,6.5],
  [2001.02,4.8],[2001.05,3.8],[2001.11,4.4],[2001.17,3.6],[2001.22,4.2],[2001.29,4.0],[2001.35,5.2],[2001.41,5.5],[2001.47,6.3],[2001.53,6.4],[2001.59,7.1],[2001.65,7.9],[2001.83,8.0],[2001.91,6.1],
  [2002.02,4.4],[2002.05,4.9],[2002.11,3.7],[2002.17,4.6],[2002.22,4.0],[2002.29,3.8],[2002.35,5.0],[2002.41,5.7],[2002.47,5.8],[2002.53,6.7],[2002.59,6.9],[2002.65,7.7],[2002.85,7.4],[2002.91,6.0],
  [2003.02,4.5],[2003.05,3.6],[2003.11,4.2],[2003.17,3.3],[2003.22,4.1],[2003.29,3.5],[2003.35,4.9],[2003.41,5.5],[2003.47,5.5],[2003.53,6.4],[2003.59,6.8],[2003.65,7.6],[2003.84,7.4],[2003.9,5.5],
  [2004.02,4.2],[2004.05,3.7],[2004.11,4.1],[2004.17,3.4],[2004.22,4.5],[2004.29,4.3],[2004.35,4.7],[2004.41,5.6],[2004.47,5.9],[2004.53,6.0],[2004.59,6.6],[2004.65,7.1],[2004.84,7.0],[2004.9,5.3],
  [2005.02,4.0],[2005.05,3.3],[2005.11,3.8],[2005.17,3.1],[2005.22,4.1],[2005.29,3.9],[2005.35,4.6],[2005.41,5.2],[2005.47,5.3],[2005.53,5.8],[2005.59,6.3],[2005.65,6.8],[2005.84,6.6],[2005.9,5.0],
  [2006.02,3.6],[2006.05,3.1],[2006.11,3.4],[2006.17,3.9],[2006.22,3.2],[2006.29,4.0],[2006.35,4.3],[2006.41,4.7],[2006.47,5.2],[2006.53,5.6],[2006.59,5.9],[2006.65,6.5],[2006.84,6.3],[2006.9,4.8],
  [2007.02,3.5],[2007.05,2.7],[2007.11,3.2],[2007.17,3.7],[2007.22,3.6],[2007.29,4.0],[2007.35,4.2],[2007.41,4.8],[2007.47,5.0],[2007.53,5.3],[2007.59,5.7],[2007.65,6.1],[2007.84,6.0],[2007.9,4.5],
  [2008.02,3.2],[2008.05,3.3],[2008.11,3.8],[2008.17,3.3],[2008.22,4.2],[2008.29,4.4],[2008.35,4.6],[2008.41,4.8],[2008.47,5.2],[2008.53,5.4],[2008.59,5.8],[2008.65,6.2],[2008.84,6.0],[2008.9,4.6],
  [2009.02,3.0],[2009.05,2.5],[2009.11,3.4],[2009.17,3.3],[2009.22,3.8],[2009.29,4.2],[2009.35,4.4],[2009.41,4.6],[2009.47,5.0],[2009.53,5.3],[2009.59,5.6],[2009.65,5.8],[2009.71,6.5],[2009.77,6.9]
];

// CO at Lauder
const laCoTicks = [1.0, 1.5, 2.0, 2.5];
const laCoTrend = [[1997, 1.17], [2009.83, 1.09]];
const laCoFit = [
  [1997.0,1.05],[1997.04,0.98],[1997.1,0.96],[1997.18,1.0],[1997.26,1.05],[1997.34,1.05],[1997.42,1.1],[1997.5,1.13],[1997.58,1.18],[1997.66,1.3],[1997.74,1.6],[1997.8,1.58],[1997.86,1.3],[1997.92,1.15],[1997.98,1.1],
  [1998.04,1.06],[1998.1,1.0],[1998.16,0.96],[1998.24,0.97],[1998.32,1.02],[1998.4,1.08],[1998.48,1.12],[1998.56,1.18],[1998.64,1.3],[1998.72,1.53],[1998.78,1.55],[1998.84,1.38],[1998.9,1.18],[1998.96,1.1],
  [1999.04,1.04],[1999.1,0.99],[1999.16,0.96],[1999.24,0.97],[1999.32,1.01],[1999.4,1.06],[1999.48,1.1],[1999.56,1.16],[1999.64,1.27],[1999.72,1.5],[1999.78,1.52],[1999.84,1.35],[1999.9,1.16],[1999.96,1.08],
  [2000.04,1.03],[2000.1,0.98],[2000.16,0.97],[2000.24,0.98],[2000.32,1.02],[2000.4,1.06],[2000.48,1.1],[2000.56,1.15],[2000.64,1.25],[2000.72,1.47],[2000.78,1.49],[2000.84,1.3],[2000.9,1.14],[2000.96,1.06],
  [2001.04,1.02],[2001.1,0.97],[2001.16,0.96],[2001.24,0.97],[2001.32,1.01],[2001.4,1.05],[2001.48,1.09],[2001.56,1.14],[2001.64,1.24],[2001.72,1.44],[2001.78,1.45],[2001.84,1.28],[2001.9,1.13],[2001.96,1.05],
  [2002.04,1.01],[2002.1,0.97],[2002.16,0.96],[2002.24,0.98],[2002.32,1.02],[2002.4,1.05],[2002.48,1.09],[2002.56,1.14],[2002.64,1.24],[2002.72,1.42],[2002.78,1.42],[2002.84,1.26],[2002.9,1.1],[2002.96,1.01],
  [2003.04,0.97],[2003.1,0.96],[2003.16,0.98],[2003.24,1.0],[2003.32,1.02],[2003.4,1.05],[2003.48,1.09],[2003.56,1.13],[2003.64,1.22],[2003.72,1.39],[2003.78,1.4],[2003.84,1.24],[2003.9,1.1],[2003.96,1.02],
  [2004.04,0.99],[2004.1,0.96],[2004.16,0.97],[2004.24,0.99],[2004.32,1.02],[2004.4,1.05],[2004.48,1.08],[2004.56,1.12],[2004.64,1.2],[2004.72,1.36],[2004.78,1.36],[2004.84,1.2],[2004.9,1.06],[2004.96,0.99],
  [2005.04,0.98],[2005.1,1.0],[2005.16,0.99],[2005.24,1.0],[2005.32,1.03],[2005.4,1.05],[2005.48,1.08],[2005.56,1.11],[2005.64,1.18],[2005.72,1.33],[2005.78,1.33],[2005.84,1.18],[2005.9,1.05],[2005.96,0.99],
  [2006.04,1.02],[2006.1,0.98],[2006.16,1.0],[2006.24,0.99],[2006.32,1.01],[2006.4,1.04],[2006.48,1.07],[2006.56,1.1],[2006.64,1.17],[2006.72,1.3],[2006.78,1.3],[2006.84,1.16],[2006.9,1.04],[2006.96,0.98],
  [2007.04,0.97],[2007.08,1.05],[2007.14,0.98],[2007.2,0.97],[2007.28,1.0],[2007.36,1.03],[2007.44,1.06],[2007.52,1.09],[2007.6,1.13],[2007.68,1.2],[2007.74,1.3],[2007.8,1.27],[2007.86,1.14],[2007.92,1.02],[2007.98,0.99],
  [2008.04,0.97],[2008.1,0.99],[2008.16,0.98],[2008.24,1.0],[2008.32,1.02],[2008.4,1.05],[2008.48,1.07],[2008.56,1.1],[2008.64,1.15],[2008.72,1.22],[2008.78,1.26],[2008.84,1.14],[2008.88,1.06],[2008.94,1.02],[2008.98,1.05],
  [2009.04,0.97],[2009.1,0.98],[2009.16,0.97],[2009.24,0.99],[2009.32,1.01],[2009.4,1.04],[2009.48,1.07],[2009.56,1.1],[2009.64,1.14],[2009.72,1.19],[2009.8,1.23],[2009.83,1.24]
];
const laCoPts = [
  [1997.01,0.88],[1997.02,1.07],[1997.03,0.82],[1997.05,0.95],[1997.07,1.01],[1997.09,0.9],[1997.12,0.99],[1997.15,0.93],[1997.18,1.06],[1997.21,0.97],[1997.24,1.1],[1997.27,1.02],[1997.3,1.12],[1997.33,1.0],[1997.36,1.08],[1997.39,1.15],[1997.42,1.05],[1997.45,1.17],[1997.48,1.09],[1997.51,1.2],[1997.54,1.13],[1997.57,1.24],[1997.6,1.16],[1997.63,1.3],[1997.65,1.22],[1997.67,1.4],[1997.69,1.33],[1997.71,1.55],[1997.72,1.73],[1997.74,1.64],[1997.75,1.85],[1997.76,2.02],[1997.78,1.7],[1997.8,1.5],[1997.82,1.42],[1997.85,1.32],[1997.88,1.25],[1997.91,1.18],[1997.94,1.22],[1997.97,1.12],
  [1998.0,1.05],[1998.03,1.14],[1998.06,0.99],[1998.09,1.07],[1998.12,0.93],[1998.15,1.02],[1998.18,0.9],[1998.21,0.98],[1998.24,0.92],[1998.27,1.04],[1998.3,0.97],[1998.33,1.08],[1998.36,1.01],[1998.39,1.12],[1998.42,1.05],[1998.45,1.15],[1998.48,1.09],[1998.51,1.2],[1998.54,1.12],[1998.57,1.25],[1998.6,1.18],[1998.63,1.32],[1998.65,1.25],[1998.67,1.42],[1998.69,1.36],[1998.71,1.55],[1998.73,1.48],[1998.75,1.7],[1998.76,2.06],[1998.78,1.62],[1998.8,1.5],[1998.82,1.43],[1998.85,1.33],[1998.88,1.22],[1998.91,1.28],[1998.94,1.14],[1998.97,1.1],
  [1999.0,1.02],[1999.03,1.1],[1999.06,0.95],[1999.09,1.04],[1999.12,0.9],[1999.15,0.99],[1999.18,0.87],[1999.21,0.96],[1999.24,0.9],[1999.27,1.02],[1999.3,0.94],[1999.33,1.06],[1999.36,0.99],[1999.39,1.1],[1999.42,1.02],[1999.45,1.13],[1999.48,1.07],[1999.51,1.18],[1999.54,1.11],[1999.57,1.24],[1999.6,1.17],[1999.63,1.3],[1999.65,1.38],[1999.67,1.5],[1999.69,1.62],[1999.71,1.75],[1999.72,1.9],[1999.74,2.05],[1999.75,1.82],[1999.77,1.68],[1999.79,1.58],[1999.81,1.45],[1999.84,1.35],[1999.87,1.24],[1999.9,1.18],[1999.93,1.12],[1999.96,1.16],[1999.98,1.05],
  [2000.01,1.0],[2000.03,1.08],[2000.06,0.93],[2000.09,1.02],[2000.12,0.88],[2000.15,0.97],[2000.18,0.91],[2000.21,1.03],[2000.24,0.95],[2000.27,1.06],[2000.3,0.85],[2000.33,1.0],[2000.36,1.09],[2000.39,1.02],[2000.42,1.12],[2000.45,1.05],[2000.48,1.15],[2000.51,1.08],[2000.54,1.19],[2000.57,1.12],[2000.6,1.24],[2000.63,1.17],[2000.65,1.3],[2000.67,1.23],[2000.69,1.4],[2000.71,1.52],[2000.73,1.44],[2000.75,1.62],[2000.76,1.85],[2000.78,1.55],[2000.8,1.42],[2000.83,1.32],[2000.86,1.2],[2000.89,1.15],[2000.92,1.08],[2000.95,1.12],[2000.98,1.02],
  [2001.01,0.98],[2001.03,1.06],[2001.06,0.92],[2001.09,1.01],[2001.12,0.87],[2001.15,0.96],[2001.18,0.9],[2001.21,1.02],[2001.24,0.94],[2001.27,1.05],[2001.3,0.97],[2001.33,1.07],[2001.36,1.0],[2001.39,1.1],[2001.42,1.03],[2001.45,1.13],[2001.48,1.06],[2001.51,1.17],[2001.54,1.1],[2001.57,1.22],[2001.6,1.15],[2001.63,1.28],[2001.65,1.21],[2001.67,1.37],[2001.69,1.3],[2001.71,1.48],[2001.73,1.4],[2001.75,1.6],[2001.77,1.87],[2001.79,1.5],[2001.81,1.38],[2001.84,1.28],[2001.87,1.17],[2001.9,1.12],[2001.93,1.05],[2001.96,1.09],[2001.98,1.0],
  [2002.01,0.97],[2002.03,1.05],[2002.06,0.9],[2002.09,1.0],[2002.12,0.86],[2002.15,0.95],[2002.18,0.89],[2002.21,1.01],[2002.24,0.93],[2002.27,1.05],[2002.3,0.98],[2002.33,1.08],[2002.36,1.01],[2002.39,1.1],[2002.42,1.03],[2002.45,1.13],[2002.48,1.06],[2002.51,1.16],[2002.54,1.1],[2002.57,1.21],[2002.6,1.15],[2002.63,1.27],[2002.65,1.2],[2002.67,1.35],[2002.69,1.28],[2002.71,1.45],[2002.73,1.38],[2002.75,1.56],[2002.77,1.68],[2002.79,2.2],[2002.8,2.26],[2002.82,1.48],[2002.85,1.3],[2002.88,1.16],[2002.91,1.1],[2002.94,1.0],[2002.97,1.04],
  [2003.0,0.93],[2003.03,1.0],[2003.06,0.88],[2003.09,0.97],[2003.12,0.85],[2003.15,0.94],[2003.18,0.9],[2003.21,1.02],[2003.24,0.95],[2003.27,1.06],[2003.3,0.98],[2003.33,1.08],[2003.36,1.01],[2003.39,1.1],[2003.42,1.03],[2003.45,1.13],[2003.48,1.06],[2003.51,1.16],[2003.54,1.09],[2003.57,1.2],[2003.6,1.13],[2003.63,1.25],[2003.65,1.19],[2003.67,1.33],[2003.69,1.26],[2003.71,1.42],[2003.73,1.35],[2003.75,1.52],[2003.77,1.78],[2003.79,1.45],[2003.81,1.36],[2003.84,1.26],[2003.87,1.15],[2003.9,1.1],[2003.93,1.02],[2003.96,1.06],[2003.98,0.97],
  [2004.01,0.95],[2004.03,1.02],[2004.06,0.89],[2004.09,0.98],[2004.12,0.84],[2004.15,0.93],[2004.18,0.78],[2004.21,0.92],[2004.24,0.87],[2004.27,1.0],[2004.3,0.94],[2004.33,1.06],[2004.36,0.99],[2004.39,1.09],[2004.42,1.02],[2004.45,1.12],[2004.48,1.05],[2004.51,1.15],[2004.54,1.08],[2004.57,1.19],[2004.6,1.12],[2004.63,1.23],[2004.65,1.17],[2004.67,1.3],[2004.69,1.24],[2004.71,1.38],[2004.73,1.32],[2004.75,1.47],[2004.77,1.85],[2004.79,1.4],[2004.81,1.3],[2004.84,1.2],[2004.87,1.1],[2004.9,1.04],[2004.93,0.97],[2004.96,1.02],[2004.98,0.94],
  [2005.01,0.96],[2005.03,1.04],[2005.06,0.91],[2005.09,1.0],[2005.12,0.87],[2005.15,0.97],[2005.18,1.06],[2005.21,0.93],[2005.24,1.02],[2005.27,0.96],[2005.3,1.07],[2005.33,1.0],[2005.36,1.1],[2005.39,1.03],[2005.42,1.12],[2005.45,1.05],[2005.48,1.14],[2005.51,1.07],[2005.54,1.17],[2005.57,1.1],[2005.6,1.2],[2005.63,1.14],[2005.65,1.26],[2005.67,1.2],[2005.69,1.33],[2005.71,1.27],[2005.73,1.42],[2005.75,1.55],[2005.77,1.77],[2005.79,1.36],[2005.81,1.28],[2005.84,1.18],[2005.87,1.09],[2005.9,1.02],[2005.93,0.95],[2005.96,1.0],[2005.98,0.92],
  [2006.01,0.97],[2006.03,1.06],[2006.06,0.9],[2006.09,0.99],[2006.12,0.86],[2006.15,0.95],[2006.18,1.03],[2006.21,0.92],[2006.24,1.01],[2006.27,0.95],[2006.3,1.05],[2006.33,0.98],[2006.36,1.08],[2006.39,1.01],[2006.42,1.1],[2006.45,1.04],[2006.48,1.12],[2006.51,1.06],[2006.54,1.15],[2006.57,1.09],[2006.6,1.18],[2006.63,1.12],[2006.65,1.23],[2006.67,1.17],[2006.69,1.3],[2006.71,1.25],[2006.73,1.38],[2006.75,1.58],[2006.76,1.52],[2006.77,1.9],[2006.79,1.33],[2006.81,1.25],[2006.84,1.15],[2006.87,1.07],[2006.9,1.0],[2006.93,0.93],[2006.96,0.98],[2006.98,0.9],
  [2007.01,0.95],[2007.03,1.04],[2007.06,0.89],[2007.09,1.0],[2007.12,0.86],[2007.15,0.96],[2007.18,1.04],[2007.21,0.91],[2007.24,1.0],[2007.27,0.94],[2007.3,1.04],[2007.33,0.97],[2007.36,1.07],[2007.39,1.0],[2007.42,1.09],[2007.45,1.03],[2007.48,1.11],[2007.51,1.05],[2007.54,1.14],[2007.57,1.08],[2007.6,1.17],[2007.63,1.11],[2007.65,1.21],[2007.67,1.16],[2007.69,1.27],[2007.71,1.22],[2007.73,1.35],[2007.75,1.7],[2007.77,1.87],[2007.79,1.3],[2007.81,1.22],[2007.84,1.12],[2007.87,1.05],[2007.9,0.98],[2007.93,0.92],[2007.96,0.97],[2007.98,0.89],
  [2008.01,0.94],[2008.03,1.02],[2008.06,0.88],[2008.09,0.98],[2008.12,0.85],[2008.15,0.95],[2008.18,1.03],[2008.21,0.9],[2008.24,0.99],[2008.27,0.93],[2008.3,1.03],[2008.33,0.96],[2008.36,1.06],[2008.39,0.99],[2008.42,1.08],[2008.45,1.02],[2008.48,1.1],[2008.51,1.04],[2008.54,1.13],[2008.57,1.07],[2008.6,1.16],[2008.63,1.1],[2008.65,1.2],[2008.67,1.14],[2008.69,1.25],[2008.71,1.2],[2008.73,1.31],[2008.75,1.5],[2008.77,1.27],[2008.79,1.22],[2008.81,1.8],[2008.84,1.12],[2008.87,1.03],[2008.9,0.96],[2008.93,0.9],[2008.96,0.95],[2008.98,0.87],
  [2009.01,0.92],[2009.03,1.0],[2009.06,0.87],[2009.09,0.96],[2009.12,0.84],[2009.15,0.94],[2009.18,1.01],[2009.21,0.89],[2009.24,0.98],[2009.27,0.92],[2009.3,1.02],[2009.33,0.95],[2009.36,1.05],[2009.39,0.98],[2009.42,1.07],[2009.45,1.01],[2009.48,1.09],[2009.51,1.03],[2009.54,1.12],[2009.57,1.06],[2009.6,1.15],[2009.63,1.09],[2009.66,1.19],[2009.69,1.13],[2009.72,1.24],[2009.75,1.18],[2009.78,1.3],[2009.8,1.22],[2009.82,2.0]
];
const laCoPtsB = [
  [1997.02,1.0],[1997.06,0.86],[1997.1,1.04],[1997.14,0.96],[1997.2,0.92],[1997.26,1.08],[1997.32,0.98],[1997.38,1.11],[1997.44,1.02],[1997.5,1.14],[1997.56,1.1],[1997.62,1.22],[1997.84,1.55],[1997.9,1.3],
  [1998.02,1.1],[1998.07,0.95],[1998.13,1.0],[1998.19,0.95],[1998.25,0.99],[1998.31,1.06],[1998.37,1.04],[1998.43,1.09],[1998.49,1.13],[1998.55,1.16],[1998.61,1.24],[1998.66,1.35],[1998.83,1.55],[1998.89,1.3],
  [1999.02,1.07],[1999.07,0.98],[1999.13,0.94],[1999.19,0.92],[1999.25,0.98],[1999.31,1.0],[1999.37,1.05],[1999.43,1.08],[1999.49,1.12],[1999.55,1.14],[1999.61,1.22],[1999.66,1.33],[1999.83,1.5],[1999.89,1.28],
  [2000.02,1.05],[2000.07,0.97],[2000.13,0.93],[2000.19,0.98],[2000.25,0.92],[2000.31,1.04],[2000.37,1.02],[2000.43,1.08],[2000.49,1.1],[2000.55,1.13],[2000.61,1.2],[2000.66,1.28],[2000.82,1.5],[2000.88,1.25],
  [2001.02,1.03],[2001.07,0.94],[2001.13,0.92],[2001.19,0.97],[2001.25,0.91],[2001.31,1.02],[2001.37,1.03],[2001.43,1.06],[2001.49,1.1],[2001.55,1.12],[2001.61,1.19],[2001.66,1.27],[2001.82,1.45],[2001.88,1.22],
  [2002.02,1.02],[2002.07,0.94],[2002.13,0.91],[2002.19,0.96],[2002.25,0.9],[2002.31,1.0],[2002.37,1.04],[2002.43,1.07],[2002.49,1.09],[2002.55,1.12],[2002.61,1.18],[2002.66,1.26],[2002.83,1.4],[2002.89,1.2],
  [2003.02,0.99],[2003.07,0.92],[2003.13,0.9],[2003.19,0.95],[2003.25,1.0],[2003.31,0.96],[2003.37,1.04],[2003.43,1.07],[2003.49,1.09],[2003.55,1.11],[2003.61,1.18],[2003.66,1.24],[2003.83,1.38],[2003.89,1.18],
  [2004.02,0.98],[2004.07,0.91],[2004.13,0.9],[2004.19,0.85],[2004.25,0.95],[2004.31,0.97],[2004.37,1.03],[2004.43,1.05],[2004.49,1.08],[2004.55,1.1],[2004.61,1.16],[2004.66,1.22],[2004.83,1.33],[2004.89,1.14],
  [2005.02,1.0],[2005.07,0.94],[2005.13,0.92],[2005.19,0.98],[2005.25,0.95],[2005.31,1.0],[2005.37,1.03],[2005.43,1.07],[2005.49,1.06],[2005.55,1.12],[2005.61,1.15],[2005.66,1.22],[2005.83,1.3],[2005.89,1.12],
  [2006.02,1.01],[2006.07,0.93],[2006.13,0.95],[2006.19,0.97],[2006.25,0.94],[2006.31,0.99],[2006.37,1.02],[2006.43,1.06],[2006.49,1.05],[2006.55,1.11],[2006.61,1.14],[2006.66,1.2],[2006.83,1.28],[2006.89,1.1],
  [2007.02,0.99],[2007.07,1.08],[2007.13,0.93],[2007.19,0.98],[2007.25,0.93],[2007.31,0.98],[2007.37,1.01],[2007.43,1.05],[2007.49,1.04],[2007.55,1.1],[2007.61,1.12],[2007.66,1.18],[2007.83,1.26],[2007.89,1.08],
  [2008.02,0.98],[2008.07,0.93],[2008.13,0.96],[2008.19,0.94],[2008.25,0.96],[2008.31,0.99],[2008.37,1.01],[2008.43,1.04],[2008.49,1.03],[2008.55,1.09],[2008.61,1.12],[2008.66,1.17],[2008.83,1.2],[2008.89,1.06],
  [2009.02,0.97],[2009.07,0.91],[2009.13,0.95],[2009.19,0.93],[2009.25,0.95],[2009.31,0.98],[2009.37,1.0],[2009.43,1.03],[2009.49,1.05],[2009.55,1.08],[2009.61,1.1],[2009.66,1.14],[2009.72,1.18],[2009.78,1.2]
];

// HCN at Lauder
const laHcnTicks = [3, 4, 5, 6];
const laHcnTrend = [[1998.27, 4.19], [2009.83, 3.75]];
const laHcnFit = [
  [1997.0,4.15],[1997.08,4.05],[1997.16,3.85],[1997.24,3.7],[1997.32,3.55],[1997.4,3.45],[1997.5,3.6],[1997.58,3.95],[1997.66,4.25],[1997.74,4.8],[1997.81,5.27],[1997.88,5.15],[1997.95,4.55],
  [1998.03,4.2],[1998.11,4.1],[1998.19,3.9],[1998.27,3.75],[1998.36,3.45],[1998.44,3.5],[1998.52,3.8],[1998.6,4.25],[1998.68,4.75],[1998.74,5.0],[1998.8,5.25],[1998.87,5.1],[1998.94,4.7],
  [1999.02,4.3],[1999.1,4.05],[1999.18,3.85],[1999.26,3.65],[1999.34,3.5],[1999.44,3.4],[1999.52,3.7],[1999.6,4.2],[1999.68,4.7],[1999.74,4.95],[1999.8,5.2],[1999.87,5.05],[1999.94,4.65],
  [2000.02,4.25],[2000.1,4.0],[2000.18,3.8],[2000.26,3.55],[2000.34,3.4],[2000.44,3.33],[2000.52,3.63],[2000.6,4.13],[2000.68,4.63],[2000.74,4.9],[2000.8,5.18],[2000.87,5.03],[2000.94,4.63],
  [2001.02,4.23],[2001.1,3.98],[2001.18,3.75],[2001.26,3.5],[2001.34,3.35],[2001.44,3.28],[2001.52,3.58],[2001.6,4.08],[2001.68,4.58],[2001.74,4.85],[2001.8,5.15],[2001.87,5.0],[2001.94,4.6],
  [2002.02,4.2],[2002.1,3.95],[2002.18,3.72],[2002.26,3.48],[2002.34,3.32],[2002.44,3.25],[2002.52,3.55],[2002.6,4.05],[2002.68,4.55],[2002.74,4.82],[2002.8,5.12],[2002.87,4.97],[2002.94,4.57],
  [2003.02,4.17],[2003.1,3.92],[2003.18,3.68],[2003.26,3.44],[2003.34,3.28],[2003.44,3.2],[2003.52,3.5],[2003.6,4.0],[2003.68,4.5],[2003.74,4.78],[2003.8,5.08],[2003.87,4.93],[2003.94,4.53],
  [2004.02,4.13],[2004.1,3.88],[2004.18,3.63],[2004.26,3.4],[2004.34,3.24],[2004.44,3.15],[2004.52,3.45],[2004.6,3.95],[2004.68,4.45],[2004.74,4.74],[2004.8,5.05],[2004.87,4.9],[2004.94,4.5],
  [2005.02,4.1],[2005.1,3.85],[2005.18,3.6],[2005.26,3.36],[2005.34,3.2],[2005.44,3.12],[2005.52,3.42],[2005.6,3.92],[2005.68,4.42],[2005.74,4.7],[2005.8,5.0],[2005.87,4.85],[2005.94,4.45],
  [2006.02,4.05],[2006.1,3.8],[2006.18,3.55],[2006.26,3.3],[2006.34,3.14],[2006.44,3.05],[2006.52,3.35],[2006.6,3.85],[2006.68,4.35],[2006.74,4.65],[2006.8,4.98],[2006.87,4.83],[2006.94,4.43],
  [2007.02,4.03],[2007.1,3.78],[2007.18,3.52],[2007.26,3.27],[2007.34,3.1],[2007.44,3.02],[2007.52,3.32],[2007.6,3.82],[2007.68,4.32],[2007.74,4.62],[2007.8,4.95],[2007.87,4.8],[2007.94,4.4],
  [2008.02,4.0],[2008.1,3.74],[2008.18,3.48],[2008.26,3.22],[2008.34,3.04],[2008.44,2.95],[2008.52,3.25],[2008.6,3.75],[2008.68,4.25],[2008.74,4.57],[2008.8,4.92],[2008.87,4.77],[2008.94,4.37],
  [2009.02,3.97],[2009.1,3.7],[2009.18,3.44],[2009.26,3.18],[2009.34,3.0],[2009.44,2.9],[2009.52,3.2],[2009.6,3.7],[2009.68,4.2],[2009.74,4.55],[2009.8,4.88],[2009.83,4.92]
];
const laHcnPts = [
  [1998.22,3.9],[1998.25,4.5],[1998.28,4.2],[1998.31,3.7],[1998.34,4.0],[1998.37,3.6],[1998.4,3.8],[1998.43,3.5],[1998.46,4.0],[1998.5,3.9],[1998.53,4.3],[1998.56,4.1],[1998.59,4.6],[1998.62,4.4],[1998.65,4.9],[1998.68,4.6],[1998.7,5.1],[1998.72,4.8],[1998.74,5.4],[1998.76,5.0],[1998.78,5.5],[1998.8,5.3],[1998.82,6.1],[1998.84,5.7],[1998.86,5.0],[1998.89,4.8],[1998.92,4.5],[1998.95,4.6],[1998.98,4.3],
  [1999.02,4.4],[1999.06,4.0],[1999.1,4.2],[1999.14,3.8],[1999.18,3.6],[1999.22,3.9],[1999.26,3.4],[1999.3,3.2],[1999.34,3.6],[1999.37,3.1],[1999.4,3.3],[1999.43,2.95],[1999.46,3.5],[1999.5,3.2],[1999.54,3.8],[1999.58,4.1],[1999.62,3.9],[1999.66,4.5],[1999.7,4.8],[1999.72,5.3],[1999.74,5.6],[1999.76,5.9],[1999.78,6.0],[1999.8,5.5],[1999.82,5.1],[1999.85,4.9],[1999.88,5.0],[1999.92,4.6],[1999.96,4.3],
  [2000.0,4.5],[2000.04,4.1],[2000.08,3.9],[2000.12,4.2],[2000.16,3.7],[2000.2,3.5],[2000.24,3.8],[2000.28,3.3],[2000.32,3.1],[2000.36,3.5],[2000.4,3.0],[2000.44,3.2],[2000.48,3.4],[2000.52,3.6],[2000.56,3.9],[2000.6,4.3],[2000.64,4.1],[2000.68,4.7],[2000.72,4.9],[2000.76,5.4],[2000.78,5.1],[2000.8,4.8],[2000.83,5.2],[2000.86,4.6],[2000.9,4.7],[2000.94,4.4],[2000.98,4.2],
  [2001.02,4.0],[2001.06,4.3],[2001.1,3.8],[2001.14,4.1],[2001.18,3.6],[2001.22,3.9],[2001.26,3.4],[2001.3,3.2],[2001.34,3.5],[2001.38,3.0],[2001.42,3.3],[2001.46,3.1],[2001.5,3.5],[2001.54,3.8],[2001.58,4.2],[2001.62,3.9],[2001.66,4.6],[2001.7,4.4],[2001.74,5.0],[2001.76,5.6],[2001.78,5.3],[2001.8,5.5],[2001.83,4.9],[2001.86,5.1],[2001.9,4.6],[2001.94,4.3],[2001.98,4.5],
  [2002.02,4.1],[2002.06,3.9],[2002.1,4.2],[2002.14,3.7],[2002.18,4.0],[2002.22,3.5],[2002.26,3.3],[2002.3,3.6],[2002.34,3.0],[2002.38,2.8],[2002.42,3.2],[2002.46,2.9],[2002.5,3.4],[2002.54,3.7],[2002.58,4.0],[2002.62,4.4],[2002.66,4.7],[2002.7,5.0],[2002.73,5.9],[2002.75,6.2],[2002.77,5.4],[2002.8,5.1],[2002.83,4.8],[2002.86,4.9],[2002.9,4.5],[2002.94,4.7],[2002.98,4.2],
  [2003.02,4.4],[2003.06,4.0],[2003.1,3.8],[2003.14,4.1],[2003.18,3.5],[2003.22,3.7],[2003.26,3.3],[2003.3,3.5],[2003.34,3.1],[2003.38,3.3],[2003.42,3.0],[2003.46,3.2],[2003.5,3.5],[2003.54,3.9],[2003.58,4.2],[2003.62,4.6],[2003.66,4.4],[2003.7,4.9],[2003.73,5.2],[2003.76,5.8],[2003.78,5.0],[2003.81,4.8],[2003.84,5.0],[2003.88,4.6],[2003.92,4.4],[2003.96,4.1],
  [2004.0,4.3],[2004.04,3.9],[2004.08,4.1],[2004.12,3.6],[2004.16,3.8],[2004.2,3.4],[2004.24,3.6],[2004.28,3.2],[2004.32,3.0],[2004.36,3.3],[2004.4,2.9],[2004.44,3.1],[2004.48,2.8],[2004.52,3.4],[2004.56,3.7],[2004.6,4.1],[2004.64,3.9],[2004.68,4.6],[2004.72,4.9],[2004.75,5.5],[2004.77,5.7],[2004.79,6.2],[2004.82,4.9],[2004.85,4.7],[2004.89,4.5],[2004.93,4.3],[2004.97,4.0],
  [2005.01,4.2],[2005.05,3.8],[2005.09,4.0],[2005.13,3.6],[2005.17,3.4],[2005.21,3.7],[2005.25,3.2],[2005.29,3.4],[2005.33,3.0],[2005.37,3.2],[2005.41,2.8],[2005.45,3.1],[2005.49,3.3],[2005.53,3.6],[2005.57,4.0],[2005.61,3.8],[2005.65,4.5],[2005.69,4.3],[2005.73,4.8],[2005.76,6.0],[2005.78,6.3],[2005.8,5.2],[2005.83,4.9],[2005.86,4.6],[2005.9,4.5],[2005.94,4.2],[2005.98,4.0],
  [2006.02,3.8],[2006.06,4.1],[2006.1,3.6],[2006.14,3.8],[2006.18,3.4],[2006.22,3.2],[2006.26,3.5],[2006.3,3.0],[2006.34,2.9],[2006.38,3.2],[2006.42,2.8],[2006.46,3.0],[2006.5,3.3],[2006.54,3.6],[2006.58,3.9],[2006.62,4.3],[2006.66,4.1],[2006.7,4.7],[2006.73,5.2],[2006.76,5.0],[2006.78,6.1],[2006.8,4.9],[2006.84,4.7],[2006.87,5.2],[2006.9,4.4],[2006.94,4.5],[2006.98,4.1],
  [2007.02,3.9],[2007.06,4.2],[2007.1,3.7],[2007.14,3.5],[2007.18,3.8],[2007.22,3.3],[2007.26,3.1],[2007.3,3.4],[2007.34,2.9],[2007.38,3.1],[2007.42,2.8],[2007.46,3.0],[2007.5,3.3],[2007.54,3.5],[2007.58,3.9],[2007.62,4.2],[2007.66,4.0],[2007.7,4.6],[2007.73,4.9],[2007.76,6.1],[2007.78,6.15],[2007.8,5.5],[2007.83,5.3],[2007.86,4.8],[2007.9,4.6],[2007.94,4.3],[2007.98,4.0],
  [2008.02,4.1],[2008.06,3.7],[2008.1,3.9],[2008.14,3.5],[2008.18,3.3],[2008.22,3.6],[2008.26,3.1],[2008.3,2.9],[2008.34,3.2],[2008.38,2.8],[2008.42,2.6],[2008.46,3.0],[2008.5,3.2],[2008.54,3.5],[2008.58,3.8],[2008.62,4.2],[2008.66,4.0],[2008.7,4.5],[2008.73,4.9],[2008.76,5.5],[2008.78,5.2],[2008.8,4.7],[2008.83,4.9],[2008.86,4.6],[2008.9,4.4],[2008.94,4.2],[2008.98,3.9],
  [2009.02,4.0],[2009.06,3.6],[2009.1,3.8],[2009.14,3.4],[2009.18,3.2],[2009.22,3.5],[2009.26,3.0],[2009.3,2.8],[2009.34,3.1],[2009.38,2.6],[2009.42,2.9],[2009.46,2.7],[2009.5,3.1],[2009.54,3.4],[2009.58,3.7],[2009.62,4.0],[2009.66,4.3],[2009.7,4.6],[2009.74,4.9],[2009.78,5.9],[2009.81,5.0]
];

// ---- drawing ----

const RED = '#c80808';
const X_MIN = 1997, X_MAX = 2009.83;
const PLOT_H = 110, HEAD = 32;

Chart.defaults.font.family = '"Liberation Sans", Arial, Helvetica, sans-serif';
Chart.defaults.color = '#000';

const panels = [
  { title: 'C₂H₆ at Arrival Heights', yTitle: 'C₂H₆ [10¹⁵ cm⁻²]', pts: ahC2h6Pts, fit: ahC2h6Fit, trend: ahC2h6Trend, ticks: ahC2h6Ticks, yMin: -0.43, yMax: 10.32, major: 2, minor: 0.5, dec: 0, top: 32, r: 1.3 },
  { title: 'CO at Arrival Heights', yTitle: 'CO [10¹⁸ cm⁻²]', pts: ahCoPts, fit: ahCoFit, trend: ahCoTrend, ticks: ahCoTicks, yMin: 0.51, yMax: 1.485, major: 0.2, minor: 0.05, dec: 1, top: 166, r: 1.3 },
  { title: 'C₂H₆ at Lauder', yTitle: 'C₂H₆ [10¹⁵ cm⁻²]', pts: laC2h6Pts.concat(laC2h6PtsB), fit: laC2h6Fit, trend: laC2h6Trend, ticks: laC2h6Ticks, yMin: 1.41, yMax: 14.28, major: 2, minor: 0.5, dec: 0, top: 299, r: 1.7 },
  { title: 'CO at Lauder', yTitle: 'CO [10¹⁸ cm⁻²]', pts: laCoPts.concat(laCoPtsB), fit: laCoFit, trend: laCoTrend, ticks: laCoTicks, yMin: 0.57, yMax: 2.58, major: 0.5, minor: 0.1, dec: 1, top: 432, r: 1.7 },
  { title: 'HCN at Lauder', yTitle: 'HCN [10¹⁵ cm⁻²]', pts: laHcnPts, fit: laHcnFit, trend: laHcnTrend, ticks: laHcnTicks, yMin: 2.48, yMax: 6.52, major: 1, minor: 0.1, dec: 0, top: 566, r: 1.35, last: true }
];

const toXY = arr => arr.map(p => ({ x: p[0], y: p[1] }));

// IDL-style frame with inward ticks
const framePlugin = {
  id: 'frame',
  afterDatasetsDraw(chart, args, o) {
    const { ctx, chartArea: a, scales } = chart;
    const x = scales.x, y = scales.y;
    ctx.save();
    ctx.strokeStyle = '#000';
    ctx.lineWidth = 1;
    ctx.beginPath();
    const n0 = Math.ceil(y.min / o.minor - 1e-6), n1 = Math.floor(y.max / o.minor + 1e-6);
    for (let k = n0; k <= n1; k++) {
      const v = k * o.minor;
      const r = v / o.major;
      const len = Math.abs(r - Math.round(r)) < 1e-6 ? 7 : 4;
      const py = Math.round(y.getPixelForValue(v)) + 0.5;
      ctx.moveTo(a.left, py);
      ctx.lineTo(a.left + len, py);
    }
    for (let yr = 1998; yr <= 2009; yr++) {
      const len = yr % 2 === 0 ? 6 : 4;
      const px = Math.round(x.getPixelForValue(yr)) + 0.5;
      ctx.moveTo(px, a.bottom);
      ctx.lineTo(px, a.bottom - len);
      ctx.moveTo(px, a.top);
      ctx.lineTo(px, a.top + len);
    }
    ctx.stroke();
    ctx.lineWidth = 2;
    ctx.beginPath();
    ctx.moveTo(a.right + 2, a.top);
    ctx.lineTo(a.left, a.top);
    ctx.lineTo(a.left, a.bottom);
    ctx.lineTo(a.right + 2, a.bottom);
    ctx.stroke();
    ctx.restore();
  }
};

const wrap = document.getElementById('wrap');

panels.forEach(p => {
  const bottomSpace = p.last ? 711 - (p.top + PLOT_H) : 4;
  const cv = document.createElement('canvas');
  cv.width = 453;
  cv.height = HEAD + PLOT_H + bottomSpace;
  cv.style.top = (p.top - HEAD) + 'px';
  cv.style.width = '453px';
  cv.style.height = cv.height + 'px';
  wrap.appendChild(cv);

  new Chart(cv, {
    type: 'scatter',
    data: {
      datasets: [
        { data: toXY(p.fit), showLine: true, borderColor: RED, borderWidth: 2.5, pointRadius: 0, spanGaps: false, tension: 0, order: 0 },
        { data: toXY(p.trend), showLine: true, borderColor: '#000', borderWidth: 2, pointRadius: 0, order: 1 },
        { data: toXY(p.pts), showLine: false, pointRadius: p.r, pointBorderWidth: 0, backgroundColor: '#000', borderColor: '#000', order: 2 }
      ]
    },
    options: {
      responsive: false,
      animation: false,
      devicePixelRatio: 1,
      layout: { padding: 0 },
      plugins: { legend: { display: false }, tooltip: { enabled: false }, title: { display: false }, frame: { major: p.major, minor: p.minor } },
      scales: {
        x: {
          type: 'linear', position: 'bottom', min: X_MIN, max: X_MAX,
          grid: { display: false, drawTicks: false }, border: { display: false },
          afterBuildTicks: s => { s.ticks = yearTicks.map(v => ({ value: v })); },
          ticks: { display: !!p.last, font: { size: 14 }, padding: 4, maxRotation: 0, autoSkip: false, callback: v => String(v) },
          title: { display: !!p.last, text: 'year', font: { size: 14, lineHeight: 1 }, padding: { top: 0, bottom: 0 } },
          afterFit: s => { s.height = bottomSpace; s.paddingLeft = 0; s.paddingRight = 0; }
        },
        xt: {
          type: 'linear', position: 'top', min: X_MIN, max: X_MAX,
          grid: { display: false, drawTicks: false }, border: { display: false },
          ticks: { display: false },
          title: { display: true, text: p.title, font: { size: 17.5 }, padding: { top: 8, bottom: 0 } },
          afterFit: s => { s.height = HEAD; s.paddingLeft = 0; s.paddingRight = 0; }
        },
        y: {
          type: 'linear', position: 'left', min: p.yMin, max: p.yMax,
          grid: { display: false, drawTicks: false }, border: { display: false },
          afterBuildTicks: s => { s.ticks = p.ticks.map(v => ({ value: v })); },
          ticks: { font: { size: 14 }, padding: 4, autoSkip: false, callback: v => Number(v).toFixed(p.dec) },
          title: { display: true, text: p.yTitle, font: { size: 14 }, padding: { top: 16, bottom: 0 } },
          afterFit: s => { s.width = 59; s.paddingTop = 0; s.paddingBottom = 0; }
        }
      }
    },
    plugins: [framePlugin]
  });
});
</script>
</body>
</html>
